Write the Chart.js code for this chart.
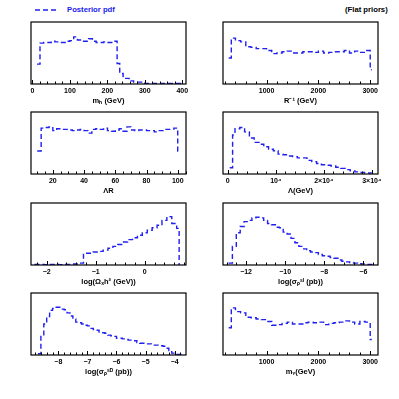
<!DOCTYPE html>
<html>
<head>
<meta charset="utf-8">
<script src="https://cdn.jsdelivr.net/npm/chart.js@4"></script>
<style>
  body { margin: 0; width: 399px; height: 399px; background: #fff; position: relative; overflow: hidden;
         font-family: "Liberation Sans", Arial, sans-serif; font-weight: bold; }
  canvas { position: absolute; }
  .txt { position: absolute; font-size: 7.7px; line-height: 10px; white-space: nowrap; }
</style>
</head>
<body>
<svg style="position:absolute;left:35px;top:8px" width="24" height="4">
  <line x1="0" y1="2" x2="24" y2="2" stroke="#2020f0" stroke-width="1.4" stroke-dasharray="5,3"/>
</svg>
<div class="txt" style="left:67px;top:5px;color:#2020f0">Posterior pdf</div>
<div class="txt" style="left:345px;top:5px;color:#000">(Flat priors)</div>

<script>
// bin edges (left edge of each step) and pdf height
const mhEdges = [12, 20, 30, 40, 50, 60, 70, 80, 90, 100, 110, 120, 130, 140, 150, 160, 170, 180, 190, 200, 210, 220,
  226, 233, 242, 258, 270, 300, 400];
const mhPdf = [0.32, 0.66, 0.67, 0.67, 0.69, 0.68, 0.67, 0.67, 0.69, 0.70, 0.76, 0.71, 0.69, 0.69, 0.73, 0.69, 0.67, 0.67, 0.68, 0.67, 0.67, 0.69,
  0.33, 0.17, 0.09, 0.05, 0.03, 0.01, 0.01];

const rinvEdges = [270, 320, 400, 500, 600, 700, 800, 900, 1000, 1100, 1200, 1300, 1400, 1500, 1600, 1700, 1800, 1900,
  2000, 2100, 2200, 2300, 2400, 2500, 2600, 2700, 2800, 2900, 3000, 3030];
const rinvPdf = [0.42, 0.74, 0.70, 0.68, 0.60, 0.59, 0.57, 0.57, 0.54, 0.49, 0.50, 0.52, 0.53, 0.50, 0.50, 0.52, 0.52, 0.51,
  0.53, 0.50, 0.51, 0.52, 0.52, 0.54, 0.50, 0.53, 0.51, 0.54, 0.23, 0.23];

const lrEdges = [10, 12.5, 15, 17.5, 20, 22.5, 25, 27.5, 30, 32.5, 35, 37.5, 40, 42.5, 45, 47.5, 50, 52.5, 55, 57.5,
  60, 62.5, 65, 67.5, 70, 72.5, 75, 77.5, 80, 82.5, 85, 87.5, 90, 92.5, 95, 97.5, 100, 101.5];
const lrPdf = [0.37, 0.74, 0.75, 0.76, 0.70, 0.73, 0.72, 0.72, 0.71, 0.70, 0.71, 0.72, 0.70, 0.66, 0.72, 0.73, 0.72, 0.74, 0.70, 0.69,
  0.71, 0.73, 0.69, 0.76, 0.71, 0.70, 0.71, 0.71, 0.70, 0.70, 0.68, 0.70, 0.70, 0.72, 0.72, 0.74, 0.37, 0.37];

const lamEdges = [400, 1000, 1500, 2500, 3500, 4500, 5500, 6500, 7500, 8500, 9500, 10500, 11500, 12500, 13500, 14500,
  15500, 16500, 17500, 18500, 19500, 20500, 21500, 22500, 23500, 24500, 25500, 26500, 27500, 28500, 29500, 30000];
const lamPdf = [0.10, 0.63, 0.73, 0.75, 0.68, 0.58, 0.51, 0.48, 0.44, 0.40, 0.375, 0.32, 0.31, 0.29, 0.28, 0.26,
  0.26, 0.22, 0.20, 0.17, 0.15, 0.14, 0.13, 0.11, 0.09, 0.07, 0.05, 0.035, 0.025, 0.017, 0.017, 0.017];

const omegaEdges = [-2.25, -2.15, -2.05, -1.95, -1.85, -1.75, -1.65, -1.55, -1.45, -1.35, -1.25, -1.15, -1.05, -0.95,
  -0.85, -0.75, -0.65, -0.55, -0.45, -0.35, -0.25, -0.15, -0.05, 0.05, 0.15, 0.25, 0.35, 0.45, 0.55, 0.65, 0.70];
const omegaPdf = [0.01, 0.01, 0.005, 0.01, 0.01, 0.005, 0.01, 0.01, 0.015, 0.03, 0.19, 0.19, 0.21, 0.22,
  0.24, 0.27, 0.30, 0.33, 0.37, 0.41, 0.44, 0.48, 0.52, 0.56, 0.60, 0.64, 0.72, 0.78, 0.67, 0.59, 0];

const siEdges = [-12.9, -12.7, -12.5, -12.3, -12.1, -11.9, -11.7, -11.5, -11.3, -11.1, -10.9, -10.7, -10.5, -10.3, -10.1,
  -9.9, -9.7, -9.5, -9.3, -9.1, -8.9, -8.7, -8.5, -8.3, -8.1, -7.9, -7.7, -7.5, -7.3, -7.1, -6.9, -6.7, -6.5, -6.3, -6.1,
  -5.9, -5.7, -5.5];
const siPdf = [0.03, 0.30, 0.52, 0.62, 0.70, 0.72, 0.76, 0.77, 0.76, 0.72, 0.67, 0.65, 0.61, 0.60, 0.53,
  0.50, 0.43, 0.36, 0.30, 0.26, 0.23, 0.21, 0.20, 0.17, 0.15, 0.14, 0.12, 0.11, 0.08, 0.06, 0.05, 0.04, 0.03, 0.02, 0.015,
  0.01, 0.01, 0.01];

const sdEdges = [-8.7, -8.6, -8.5, -8.4, -8.3, -8.2, -8.1, -8.0, -7.9, -7.8, -7.7, -7.6, -7.5, -7.4, -7.3, -7.2, -7.1, -7.0,
  -6.9, -6.8, -6.7, -6.6, -6.5, -6.4, -6.3, -6.2, -6.1, -6.0, -5.9, -5.8, -5.7, -5.6, -5.5, -5.4, -5.3, -5.2, -5.1, -5.0,
  -4.9, -4.8, -4.7, -4.6, -4.5, -4.4, -4.3, -4.2, -4.1, -4.0, -3.9, -3.8, -3.75];
const sdPdf = [0.02, 0.30, 0.50, 0.62, 0.72, 0.75, 0.77, 0.77, 0.74, 0.73, 0.68, 0.63, 0.58, 0.53, 0.52, 0.50, 0.48, 0.47,
  0.43, 0.41, 0.40, 0.37, 0.36, 0.35, 0.32, 0.31, 0.30, 0.27, 0.27, 0.26, 0.25, 0.24, 0.24, 0.23, 0.20, 0.19, 0.19, 0.18,
  0.18, 0.16, 0.16, 0.16, 0.15, 0.14, 0.11, 0.07, 0.03, 0.01, 0.01, 0.01, 0.01];

const mgEdges = [270, 320, 400, 500, 600, 700, 800, 900, 1000, 1100, 1200, 1300, 1400, 1500, 1600, 1700, 1800, 1900,
  2000, 2100, 2200, 2300, 2400, 2500, 2600, 2700, 2800, 2900, 3000, 3030];
const mgPdf = [0.44, 0.76, 0.70, 0.68, 0.61, 0.60, 0.58, 0.57, 0.54, 0.48, 0.49, 0.51, 0.53, 0.50, 0.50, 0.52, 0.53, 0.52,
  0.53, 0.49, 0.51, 0.52, 0.53, 0.55, 0.53, 0.50, 0.54, 0.53, 0.25, 0.25];

// labelled ticks
const mhTicks = [0, 100, 200, 300, 400];
const mhLabels = ['0', '100', '200', '300', '400'];
const gevTicks = [1000, 2000, 3000];
const gevLabels = ['1000', '2000', '3000'];
const lrTicks = [20, 40, 60, 80, 100];
const lrLabels = ['20', '40', '60', '80', '100'];
const lamTicks = [0, 10000, 20000, 30000];
const lamLabels = ['0', '10⁴', '2×10⁴', '3×10⁴'];
const omegaTicks = [-2, -1, 0];
const omegaLabels = ['−2', '−1', '0'];
const siTicks = [-12, -10, -8, -6];
const siLabels = ['−12', '−10', '−8', '−6'];
const sdTicks = [-8, -7, -6, -5, -4];
const sdLabels = ['−8', '−7', '−6', '−5', '−4'];

const BLUE = '#2020f0';
const rowTop = [22, 112, 203, 293];

const panels = [
  { col: 0, row: 0, edges: mhEdges, pdf: mhPdf, min: -4, max: 410, step: 20, ticks: mhTicks, labels: mhLabels, title: 'mₕ (GeV)' },
  { col: 1, row: 0, edges: rinvEdges, pdf: rinvPdf, min: 160, max: 3150, step: 200, ticks: gevTicks, labels: gevLabels, title: 'R⁻¹ (GeV)' },
  { col: 0, row: 1, edges: lrEdges, pdf: lrPdf, min: 6, max: 105.3, step: 5, ticks: lrTicks, labels: lrLabels, title: 'ΛR' },
  { col: 1, row: 1, edges: lamEdges, pdf: lamPdf, min: -1000, max: 31300, step: 2000, ticks: lamTicks, labels: lamLabels, title: 'Λ(GeV)' },
  { col: 0, row: 2, edges: omegaEdges, pdf: omegaPdf, min: -2.32, max: 0.84, step: 0.2, ticks: omegaTicks, labels: omegaLabels, title: 'log(Ωᵪh² (GeV))' },
  { col: 1, row: 2, edges: siEdges, pdf: siPdf, min: -13.18, max: -5.25, step: 0.5, ticks: siTicks, labels: siLabels, title: 'log(σₚˢᴵ (pb))' },
  { col: 0, row: 3, edges: sdEdges, pdf: sdPdf, min: -8.94, max: -3.61, step: 0.2, ticks: sdTicks, labels: sdLabels, title: 'log(σₚˢᴰ (pb))' },
  { col: 1, row: 3, edges: mgEdges, pdf: mgPdf, min: 160, max: 3150, step: 200, ticks: gevTicks, labels: gevLabels, title: 'mᵧ(GeV)' }
];

Chart.defaults.font.family = '"Liberation Sans", Arial, sans-serif';
Chart.defaults.font.weight = 'bold';
Chart.defaults.color = '#000';

function majorIndex(p, v) {
  return p.ticks.findIndex(t => Math.abs(t - v) < p.step * 1e-3);
}

// minor tick positions: every step inside the axis range
function minorTicks(p) {
  const out = [];
  for (let k = Math.ceil(p.min / p.step); k * p.step <= p.max; k++) {
    out.push({ value: Math.round(k * p.step * 1e6) / 1e6 });
  }
  return out;
}

panels.forEach(p => {
  const cv = document.createElement('canvas');
  const w = p.col === 0 ? 200 : 199;
  cv.width = w;
  cv.height = 93;
  cv.style.left = (p.col === 0 ? 0 : 200) + 'px';
  cv.style.top = (rowTop[p.row] - 3) + 'px';
  document.body.appendChild(cv);

  // inward tick marks + box frame
  const frame = {
    id: 'frame',
    afterDraw(chart) {
      const { ctx, chartArea: a } = chart;
      const x = chart.scales.x;
      ctx.save();
      ctx.strokeStyle = '#000';
      ctx.lineWidth = 1;
      x.ticks.forEach(t => {
        const px = Math.round(x.getPixelForValue(t.value)) + 0.5;
        const len = majorIndex(p, t.value) >= 0 ? 4 : 2.5;
        ctx.beginPath();
        ctx.moveTo(px, a.bottom);
        ctx.lineTo(px, a.bottom - len);
        ctx.stroke();
      });
      ctx.lineWidth = 1.2;
      ctx.strokeRect(a.left, a.top, a.right - a.left, a.bottom - a.top);
      ctx.restore();
    }
  };

  new Chart(cv, {
    type: 'line',
    data: {
      datasets: [{
        data: p.edges.map((e, i) => ({ x: e, y: p.pdf[i] })),
        stepped: 'before',
        borderColor: BLUE,
        borderWidth: 1.4,
        borderDash: [5, 3],
        pointRadius: 0,
        fill: false
      }]
    },
    options: {
      responsive: false,
      animation: false,
      devicePixelRatio: 1,
      layout: { padding: { left: p.col === 0 ? 31 : 23, right: p.col === 0 ? 14 : 21, top: 3, bottom: 0 } },
      plugins: { legend: { display: false }, tooltip: { enabled: false } },
      scales: {
        x: {
          type: 'linear',
          min: p.min,
          max: p.max,
          afterBuildTicks: s => { s.ticks = minorTicks(p); },
          afterFit: s => { s.height = 28; },
          grid: { display: false, drawTicks: false },
          border: { display: false },
          ticks: {
            autoSkip: false,
            maxRotation: 0,
            padding: 2.5,
            font: { size: 7 },
            callback: v => {
              const i = majorIndex(p, v);
              return i < 0 ? '' : p.labels[i];
            }
          },
          title: { display: true, text: p.title, font: { size: 7.5, weight: 'bold' }, padding: { top: 0, bottom: 7 } }
        },
        y: { display: false, min: 0, max: 1 }
      }
    },
    plugins: [frame]
  });
});
</script>
</body>
</html>
